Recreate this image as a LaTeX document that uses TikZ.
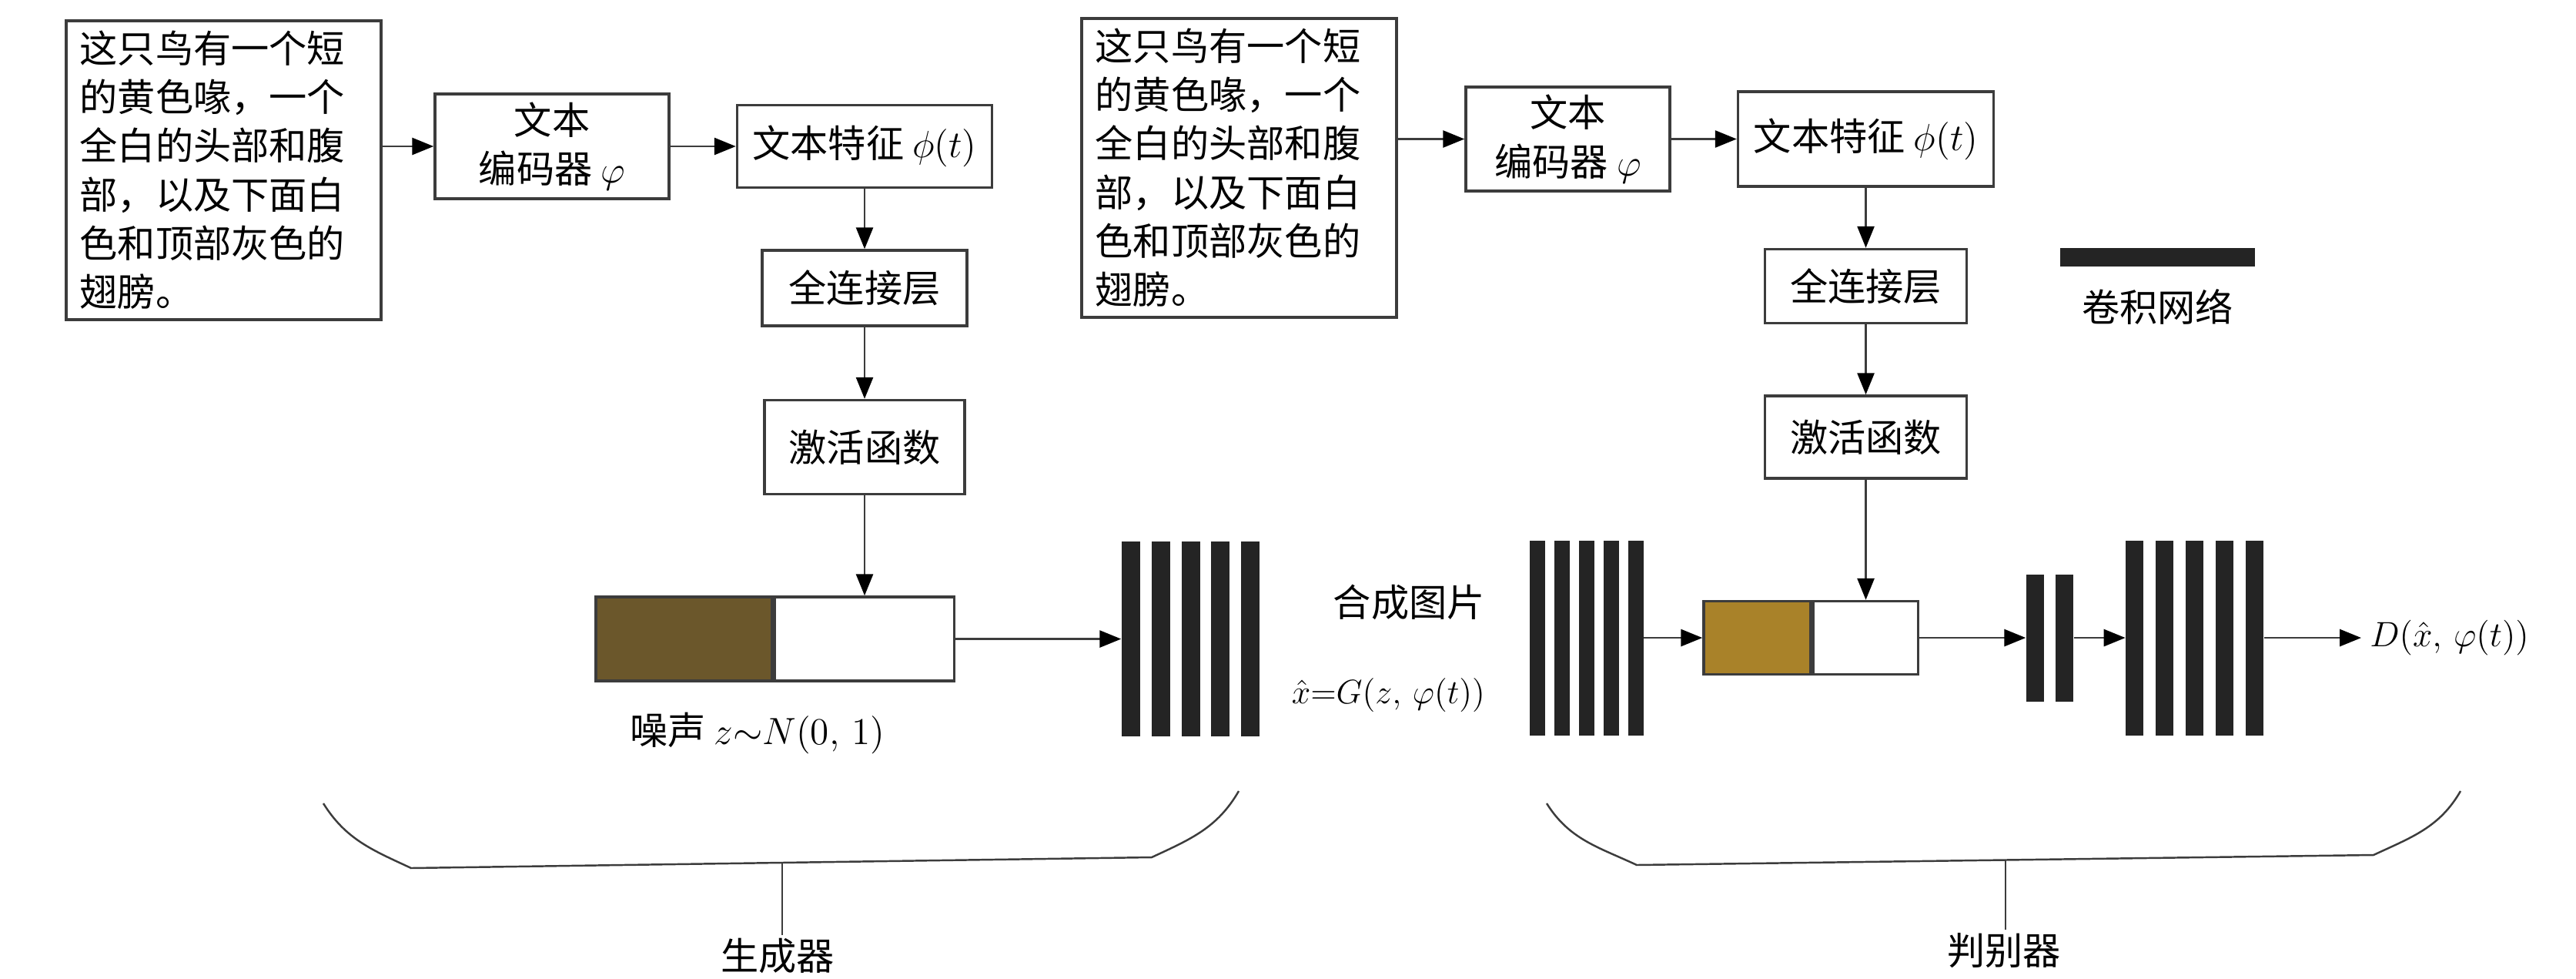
\documentclass[tikz,border=0pt]{standalone}
\usepackage{fix-cm}
\usepackage{fontspec}
\usepackage{xcolor}
\usetikzlibrary{arrows.meta, positioning}
\newfontfamily\zhfont{Noto Sans CJK SC}
\newcommand{\cnfont}{\zhfont\fontsize{14pt}{18pt}\selectfont}
\definecolor{noisebrown}{RGB}{107,87,43}
\definecolor{featgold}{RGB}{169,130,41}
\definecolor{bardark}{RGB}{36,36,36}
\definecolor{linegray}{RGB}{60,60,60}

\begin{document}
\begin{tikzpicture}[
    box/.style={rectangle, draw=linegray, line width=1pt, align=center, inner sep=2pt, font=\cnfont},
    textbox/.style={box, anchor=north west, align=left, text width=3.73cm, inner xsep=0.18cm,
                    minimum width=4.09cm, minimum height=3.88cm},
    half/.style={rectangle, draw=linegray, line width=1pt, minimum height=1.09cm, inner sep=0pt},
    cbar/.style={rectangle, fill=bardark, inner sep=0pt, minimum height=2.53cm},
    lbl/.style={inner sep=1pt, font=\cnfont},
    arrow/.style={-{Triangle[length=2.8mm, width=2.2mm, color=black]}, line width=0.8pt, draw=linegray},
    brace/.style={line width=0.7pt, draw=linegray}
]
\useasboundingbox (0,0) rectangle (33.46,-12.70);

% generator
\node[textbox] (textL) at (0.84,-0.25) {这只鸟有一个短\\的黄色喙，一个\\全白的头部和腹\\部，以及下面白\\色和顶部灰色的\\翅膀。};
\node[box, minimum width=3.04cm, minimum height=1.36cm] (encL) at (7.17,-1.90) {文本\\编码器 $\varphi$};
\node[box, right=0.85cm of encL, minimum width=3.31cm, minimum height=1.07cm] (featL) {文本特征 $\phi(t)$};
\node[box, below=0.78cm of featL, minimum width=2.66cm, minimum height=0.98cm] (fcL) {全连接层};
\node[box, below=0.93cm of fcL, minimum width=2.60cm, minimum height=1.22cm] (actL) {激活函数};
\node[half, below=1.30cm of actL, minimum width=2.33cm, fill=white] (noiseT) {};
\node[half, left=0pt of noiseT, minimum width=2.29cm, fill=noisebrown] (noiseZ) {};
\node[lbl] (noiselbl) at (9.84,-9.52) {噪声 $z{\sim}N(0,\,1)$};
\node[cbar, right=2.15cm of noiseT, minimum width=0.24cm] (gconv1) {};
\node[cbar, right=0.134cm of gconv1, minimum width=0.24cm] (gconv2) {};
\node[cbar, right=0.134cm of gconv2, minimum width=0.24cm] (gconv3) {};
\node[cbar, right=0.134cm of gconv3, minimum width=0.24cm] (gconv4) {};
\node[cbar, right=0.134cm of gconv4, minimum width=0.24cm] (gconv5) {};
\node[lbl, anchor=east] (synth) at (19.33,-7.82) {合成图片};
\node[lbl, anchor=east, font=\fontsize{12.5pt}{15pt}\selectfont] (synthx) at (19.33,-9.03) {$\hat{x}{=}G(z,\,\varphi(t))$};

\draw[arrow] (textL.east |- encL.west) -- (encL.west);
\draw[arrow] (encL) -- (featL);
\draw[arrow] (featL) -- (fcL);
\draw[arrow] (fcL) -- (actL);
\draw[arrow] (actL) -- (noiseT);
\draw[arrow] (noiseT) -- (gconv1);

% discriminator
\node[textbox] (textR) at (14.03,-0.22) {这只鸟有一个短\\的黄色喙，一个\\全白的头部和腹\\部，以及下面白\\色和顶部灰色的\\翅膀。};
\node[box, minimum width=2.65cm, minimum height=1.35cm] (encR) at (20.365,-1.805) {文本\\编码器 $\varphi$};
\node[box, right=0.85cm of encR, minimum width=3.32cm, minimum height=1.23cm] (featR) {文本特征 $\phi(t)$};
\node[box, below=0.78cm of featR, minimum width=2.62cm, minimum height=0.96cm] (fcR) {全连接层};
\node[box, below=0.91cm of fcR, minimum width=2.62cm, minimum height=1.07cm] (actR) {激活函数};
\node[half, below=1.56cm of actR, minimum width=1.36cm, minimum height=0.95cm, fill=white] (dcatB) {};
\node[half, left=0pt of dcatB, minimum width=1.39cm, minimum height=0.95cm, fill=featgold] (dcatA) {};
\node[cbar, left=0.76cm of dcatA, minimum width=0.196cm] (dinp5) {};
\node[cbar, left=0.109cm of dinp5, minimum width=0.196cm] (dinp4) {};
\node[cbar, left=0.109cm of dinp4, minimum width=0.196cm] (dinp3) {};
\node[cbar, left=0.109cm of dinp3, minimum width=0.196cm] (dinp2) {};
\node[cbar, left=0.109cm of dinp2, minimum width=0.196cm] (dinp1) {};
\node[cbar, right=1.38cm of dcatB, minimum width=0.225cm, minimum height=1.65cm] (dmid1) {};
\node[cbar, right=0.145cm of dmid1, minimum width=0.225cm, minimum height=1.65cm] (dmid2) {};
\node[cbar, right=0.67cm of dmid2, minimum width=0.23cm] (dout1) {};
\node[cbar, right=0.146cm of dout1, minimum width=0.23cm] (dout2) {};
\node[cbar, right=0.146cm of dout2, minimum width=0.23cm] (dout3) {};
\node[cbar, right=0.146cm of dout3, minimum width=0.23cm] (dout4) {};
\node[cbar, right=0.146cm of dout4, minimum width=0.23cm] (dout5) {};
\node[lbl, right=1.26cm of dout5, inner sep=3pt, font=\fontsize{13pt}{15pt}\selectfont] (dscore) {$D(\hat{x},\,\varphi(t))$};

\draw[arrow] (textR.east |- encR.west) -- (encR.west);
\draw[arrow] (encR) -- (featR);
\draw[arrow] (featR) -- (fcR);
\draw[arrow] (fcR) -- (actR);
\draw[arrow] (actR) -- (dcatB);
\draw[arrow] (dinp5) -- (dcatA);
\draw[arrow] (dcatB) -- (dmid1);
\draw[arrow] (dmid2) -- (dout1);
\draw[arrow] (dout5) -- (dscore);

% legend
\node[cbar, minimum width=2.53cm, minimum height=0.24cm] (legbar) at (28.025,-3.34) {};
\node[lbl, below=0.25cm of legbar] (leglbl) {卷积网络};

% braces
\draw[brace] (4.20,-10.43) to[out=-58, in=155] (5.34,-11.27) -- (14.96,-11.13) to[out=25, in=-120] (16.09,-10.27);
\coordinate (genmid) at (10.16,-11.20);
\node[lbl] (genlbl) at (10.10,-12.41) {生成器};
\draw[brace] (genmid) -- (genmid |- genlbl.north);

\draw[brace] (20.09,-10.43) to[out=-58, in=155] (21.26,-11.23) -- (30.83,-11.10) to[out=25, in=-120] (31.96,-10.27);
\coordinate (dismid) at (26.05,-11.165);
\node[lbl] (dislbl) at (26.03,-12.34) {判别器};
\draw[brace] (dismid) -- (dismid |- dislbl.north);
\end{tikzpicture}
\end{document}
